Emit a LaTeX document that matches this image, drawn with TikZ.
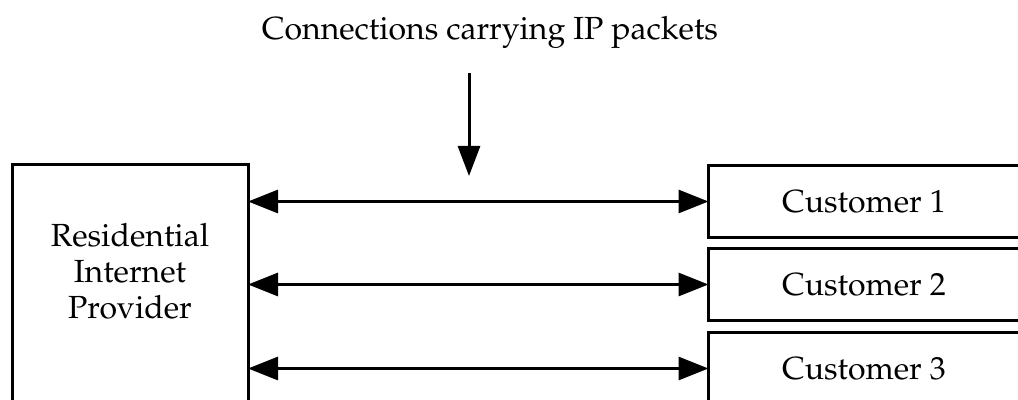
\documentclass[tikz,border=0pt]{standalone}
\usepackage[T1]{fontenc}
\usepackage{mathpazo}
\usepackage{tikz}
\usetikzlibrary{arrows.meta}

\begin{document}
\begin{tikzpicture}[x=0.5pt,y=-0.5pt,
    every node/.style={font=\fontsize{16}{18}\selectfont, outer sep=0pt},
    box/.style={draw, line width=1.5pt, inner sep=0pt},
    custbox/.style={box, minimum width=155.5pt, minimum height=36pt},
    link/.style={line width=1.5pt, {Triangle[length=15pt,width=11.5pt]}-{Triangle[length=15pt,width=11.5pt]}}]
        \useasboundingbox (0,0) rectangle (1018,400);
        \clip (0,0) rectangle (1018,400);
        \node[anchor=base] (title) at (490,40) {Connections carrying IP packets};
        \node[box, align=center, minimum width=118pt, minimum height=127.5pt, text depth=22pt] (isp) at (130,292.5) {Residential\\Internet\\Provider};
        \node[custbox] (cust1) at (864,201.5) {Customer 1};
        \node[custbox] (cust2) at (864,284.5) {Customer 2};
        \node[custbox] (cust3) at (864,368.5) {Customer 3};
        \draw[link] (isp.east |- cust1.west) -- (cust1.west);
        \draw[link] (isp.east |- cust2.west) -- (cust2.west);
        \draw[link] (isp.east |- cust3.west) -- (cust3.west);
        \coordinate (from) at (469,73);
        \coordinate (to) at (469,176);
        \draw[line width=1.5pt, -{Triangle[length=15pt,width=11pt]}] (from) -- (to);
\end{tikzpicture}
\end{document}
